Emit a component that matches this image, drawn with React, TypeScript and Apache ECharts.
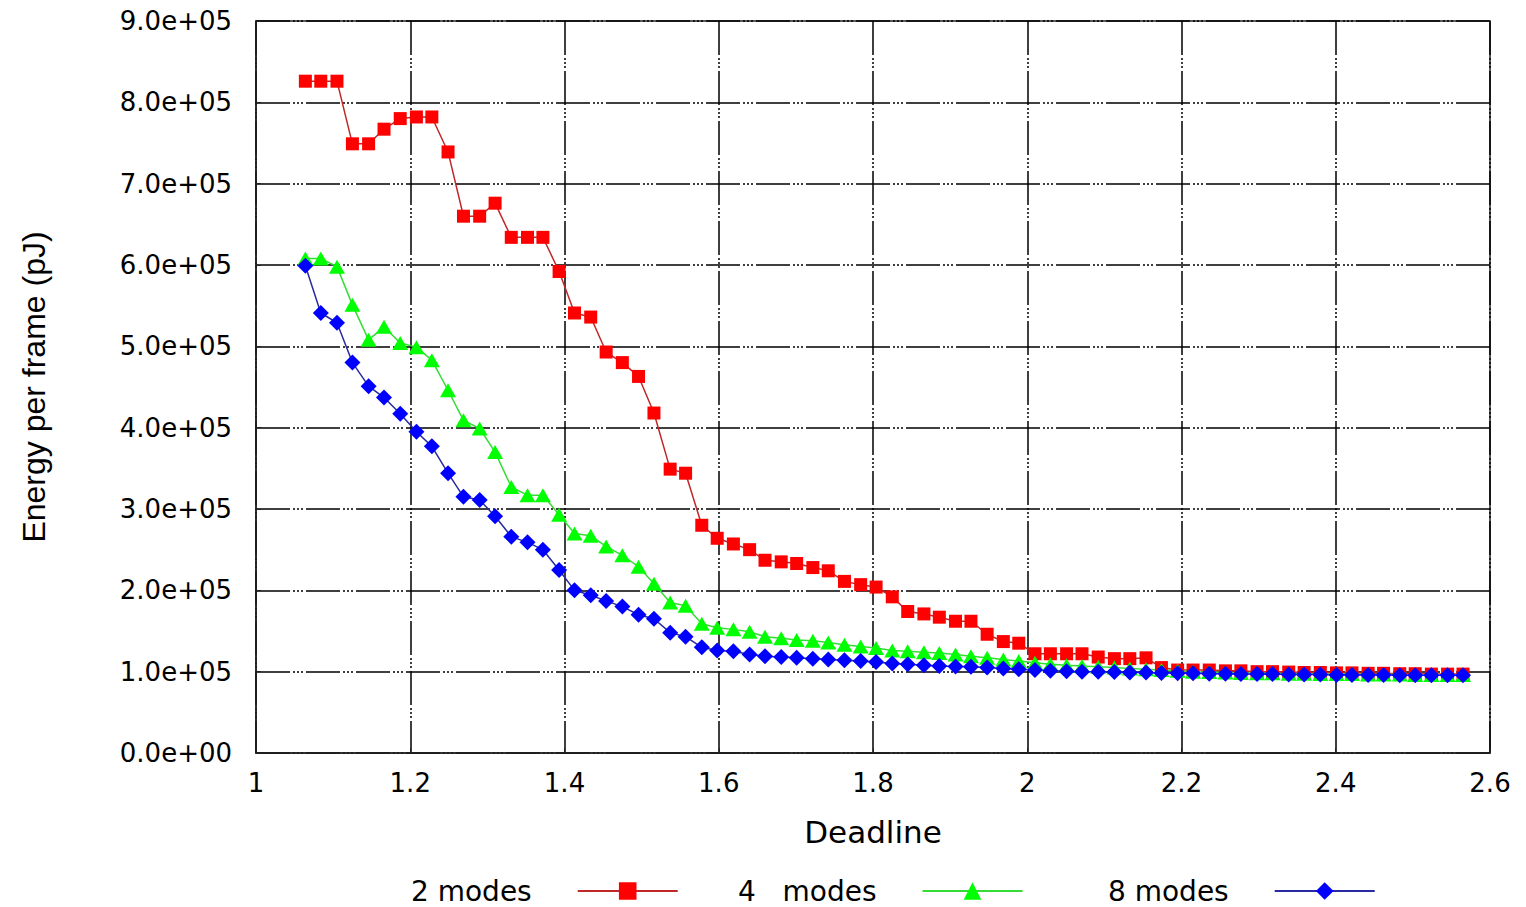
import React, { useEffect, useRef } from "react";
import * as echarts from "echarts";

const deadline = [
  1.064, 1.084, 1.105, 1.125, 1.146, 1.166, 1.187, 1.208, 1.228, 1.249,
  1.269, 1.29, 1.31, 1.331, 1.352, 1.372, 1.393, 1.413, 1.434, 1.454,
  1.475, 1.496, 1.516, 1.537, 1.557, 1.578, 1.598, 1.619, 1.64, 1.66,
  1.681, 1.701, 1.722, 1.742, 1.763, 1.784, 1.804, 1.825, 1.845, 1.866,
  1.886, 1.907, 1.927, 1.948, 1.969, 1.989, 2.01, 2.03, 2.051, 2.071,
  2.092, 2.113, 2.133, 2.154, 2.174, 2.195, 2.215, 2.236, 2.257, 2.277,
  2.298, 2.318, 2.339, 2.359, 2.38, 2.401, 2.421, 2.442, 2.462, 2.483,
  2.503, 2.524, 2.545, 2.565,
];

const modes2 = [
  826000, 826000, 826000, 749000, 749000, 767000, 780000, 782000, 782000, 739000,
  660000, 660000, 676000, 634000, 634000, 634000, 592000, 541000, 536000, 493000,
  480000, 463000, 418000, 349000, 344000, 280000, 264000, 257000, 250000, 237000,
  235000, 233000, 228000, 224000, 211000, 207000, 204000, 192000, 174000, 171000,
  167000, 162000, 162000, 146000, 137000, 135000, 122000, 122000, 122000, 122000,
  118000, 116000, 116000, 117000, 105000, 102000, 102000, 102000, 101000, 101000,
  100000, 100000, 99500, 99000, 99000, 98500, 98500, 98000, 98000, 97500,
  97500, 97000, 97000, 97000,
];

const modes4 = [
  608000, 608000, 598000, 551000, 508000, 524000, 504000, 499000, 483000, 446000,
  409000, 399000, 370000, 327000, 317000, 317000, 293000, 270000, 267000, 254000,
  243000, 229000, 208000, 185000, 181000, 159000, 154000, 152000, 149000, 143000,
  141000, 139000, 138000, 136000, 133000, 131000, 129000, 126000, 125000, 124000,
  123000, 121000, 119000, 117000, 115000, 113000, 111000, 109000, 108000, 107000,
  106000, 105000, 104000, 103000, 102000, 101000, 100000, 99500, 99000, 98500,
  98000, 98000, 97500, 97500, 97000, 97000, 97000, 96500, 96500, 96500,
  96000, 96000, 96000, 96000,
];

const modes8 = [
  599000, 541000, 529000, 480000, 451000, 437000, 417000, 395000, 377000, 344000,
  315000, 311000, 291000, 266000, 259000, 250000, 225000, 200000, 194000, 187000,
  180000, 170000, 165000, 148000, 143000, 130000, 126000, 125000, 121000, 119000,
  118000, 117000, 116000, 115000, 114000, 113000, 112000, 110000, 109000, 108000,
  107000, 106500, 106000, 105000, 104000, 103000, 102000, 101000, 100500, 100000,
  100000, 99500, 99000, 99000, 98500, 98000, 98000, 97500, 97500, 97000,
  97000, 97000, 96500, 96500, 96500, 96000, 96000, 96000, 96000, 95500,
  95500, 95500, 95500, 95500,
];

const seriesNames = ["2 modes", "4   modes", "8 modes"];
const legendLefts = [411, 738, 1108];

const pairs = (ys: number[]) => deadline.map((x, i) => [x, ys[i]]);

const yFormat = (v: number) => {
  if (v === 0) return "0.0e+00";
  const exp = Math.floor(Math.log10(Math.abs(v)) + 1e-9);
  const mant = v / Math.pow(10, exp);
  const e = String(Math.abs(exp)).padStart(2, "0");
  return mant.toFixed(1) + "e" + (exp >= 0 ? "+" : "-") + e;
};

const gridDash = [34, 3, 2, 2, 2, 2, 2, 3];

export default function App() {
  const ref = useRef<HTMLDivElement>(null);

  useEffect(() => {
    if (!ref.current) return;
    const chart = echarts.init(ref.current, null, { renderer: "svg" });
    const tickFont = { fontFamily: "DejaVu Sans", fontSize: 26, color: "#000" };
    chart.setOption({
      animation: false,
      backgroundColor: "#fff",
      grid: {
        left: 256,
        top: 21,
        right: 36,
        bottom: 154,
        show: true,
        borderColor: "#222",
        borderWidth: 1.5,
        backgroundColor: "transparent",
      },
      legend: seriesNames.map((n, i) => ({
        data: [n],
        left: legendLefts[i],
        top: 877,
        padding: 0,
        align: "right",
        itemWidth: 100,
        itemHeight: 22,
        textStyle: {
          fontFamily: "DejaVu Sans",
          fontSize: 28,
          lineHeight: 28,
          color: "#000",
          padding: [0, 41, 0, 0],
        },
      })),
      xAxis: {
        type: "value",
        min: 1,
        max: 2.6,
        interval: 0.2,
        name: "Deadline",
        nameLocation: "middle",
        nameGap: 63,
        nameTextStyle: { fontFamily: "DejaVu Sans", fontSize: 31, color: "#000" },
        axisLine: { show: true, onZero: false, lineStyle: { color: "#222", width: 1.5 } },
        axisTick: { show: true, inside: true, length: 5, lineStyle: { color: "#222" } },
        axisLabel: {
          ...tickFont,
          margin: 17,
          formatter: (v: number) => String(parseFloat(v.toFixed(1))),
        },
        splitLine: { show: true, lineStyle: { color: "#000", width: 1.5, type: gridDash } },
      },
      yAxis: {
        type: "value",
        min: 0,
        max: 900000,
        interval: 100000,
        name: "Energy per frame (pJ)",
        nameLocation: "middle",
        nameGap: 206,
        nameRotate: 90,
        nameTextStyle: { fontFamily: "Liberation Sans", fontSize: 32, color: "#000" },
        axisLine: { show: true, lineStyle: { color: "#222", width: 1.5 } },
        axisTick: { show: true, inside: true, length: 5, lineStyle: { color: "#222" } },
        axisLabel: { ...tickFont, margin: 24, formatter: yFormat },
        splitLine: { show: true, lineStyle: { color: "#000", width: 1.5, type: gridDash } },
      },
      series: [
        {
          name: seriesNames[0],
          type: "line",
          data: pairs(modes2),
          symbol: "rect",
          symbolSize: 13,
          itemStyle: { color: "#ff0000" },
          lineStyle: { color: "#c02828", width: 1.5 },
        },
        {
          name: seriesNames[1],
          type: "line",
          data: pairs(modes4),
          symbol: "triangle",
          symbolSize: [16, 14],
          itemStyle: { color: "#00ff00" },
          lineStyle: { color: "#33dd33", width: 1.5 },
        },
        {
          name: seriesNames[2],
          type: "line",
          data: pairs(modes8),
          symbol: "diamond",
          symbolSize: [16, 16],
          itemStyle: { color: "#0000ff" },
          lineStyle: { color: "#2a2aa0", width: 1.5 },
        },
      ],
    });
    return () => chart.dispose();
  }, []);

  return (
    <div
      ref={ref}
      style={{ position: "fixed", left: 0, top: 0, width: 1526, height: 907, background: "#fff" }}
    />
  );
}
